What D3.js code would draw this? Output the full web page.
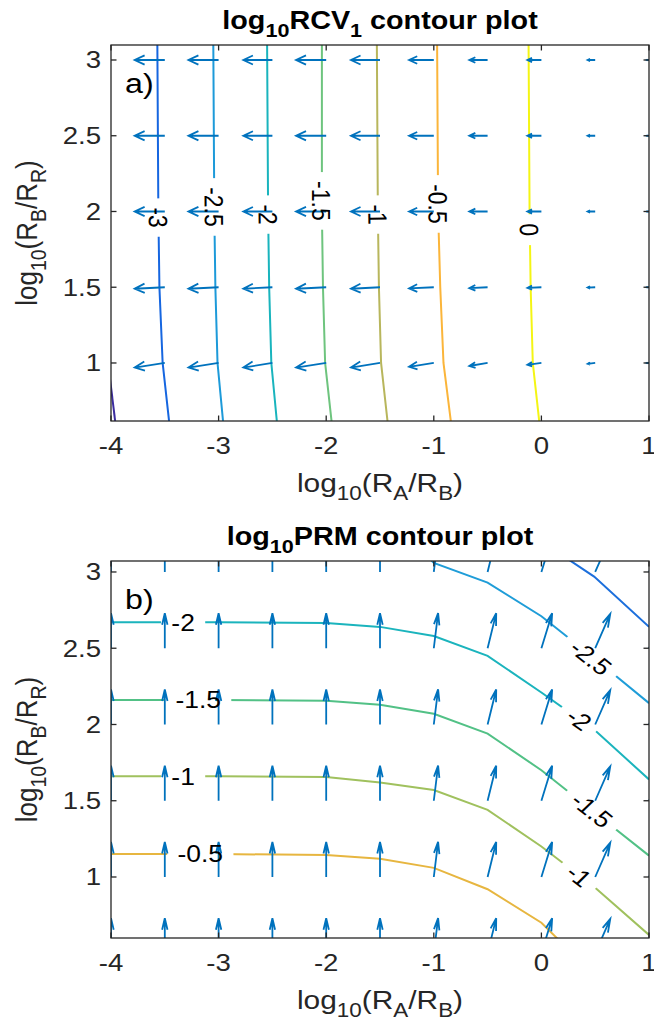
<!DOCTYPE html>
<html>
<head>
<meta charset="utf-8">
<title>log10 contour plots</title>
<script src="https://cdn.jsdelivr.net/npm/d3@7/dist/d3.min.js"></script>
<style>
body { margin: 0; background: #fff; }
text { font-family: "Liberation Sans", Arial, Helvetica, sans-serif; }
</style>
</head>
<body>
<script>
// ---------- data ----------
var xTicks = [-4, -3, -2, -1, 0, 1];
var xTickLabels = ["-4", "-3", "-2", "-1", "0", "1"];
var yTicks = [1, 1.5, 2, 2.5, 3];
var yTickLabels = ["1", "1.5", "2", "2.5", "3"];
var gridX = [-4, -3.5, -3, -2.5, -2, -1.5, -1, -0.5, 0, 0.5, 1];

// panel a : log10 RCV1
var levelsA = [-3.5, -3, -2.5, -2, -1.5, -1, -0.5, 0];
var colorsA = ["#3b2c9e", "#1666e0", "#1d9ad9", "#19b4bd", "#6ec47e", "#b8b65c", "#fbb53a", "#f4f514"];
var contoursA = [
  [[-4.01, 0.9], [-3.95, 0.55]],
  [[-3.57, 3.2], [-3.56, 2.0], [-3.55, 1.5], [-3.52, 1.0], [-3.45, 0.55]],
  [[-3.05, 3.2], [-3.04, 2.0], [-3.03, 1.5], [-3.01, 1.0], [-2.95, 0.55]],
  [[-2.55, 3.2], [-2.54, 2.0], [-2.53, 1.5], [-2.51, 1.0], [-2.45, 0.55]],
  [[-2.04, 3.2], [-2.04, 2.0], [-2.03, 1.5], [-2.01, 1.0], [-1.94, 0.55]],
  [[-1.53, 3.2], [-1.52, 2.0], [-1.51, 1.5], [-1.49, 1.0], [-1.42, 0.55]],
  [[-0.97, 3.2], [-0.96, 2.0], [-0.94, 1.5], [-0.91, 1.0], [-0.83, 0.55]],
  [[-0.12, 3.2], [-0.11, 2.0], [-0.1, 1.5], [-0.08, 1.0], [-0.01, 0.55]]
];
// [level, x, y]
var labelsA = [[-3, -3.56, 1.96], [-2.5, -3.04, 2.03], [-2, -2.54, 1.98], [-1.5, -2.04, 2.07],
               [-1, -1.52, 1.98], [-0.5, -0.96, 2.05], [0, -0.11, 1.88]];
var rowsA = [1, 1.5, 2, 2.5, 3];
var uRowA = [-0.28, -0.28, -0.28, -0.27, -0.28, -0.27, -0.23, -0.17, -0.13, -0.07, -0.02];
var uA = [uRowA, uRowA, uRowA, uRowA, uRowA];
var vA = [
  [-0.03, -0.03, -0.03, -0.03, -0.03, -0.03, -0.025, -0.02, -0.012, -0.006, 0],
  [-0.01, -0.01, -0.01, -0.01, -0.01, -0.01, -0.008, -0.006, -0.004, -0.002, 0],
  [0, 0, 0, 0, 0, 0, 0, 0, 0, 0, 0],
  [0, 0, 0, 0, 0, 0, 0, 0, 0, 0, 0],
  [0, 0, 0, 0, 0, 0, 0, 0, 0, 0, 0]
];

// panel b : log10 PRM
var levelsB = [-3, -2.5, -2, -1.5, -1, -0.5];
var colorsB = ["#1c6fdc", "#1f9dd8", "#1bb4bd", "#52c186", "#a0c15e", "#e7b640"];
var contoursB = [
  [[0.0, 3.2], [0.49, 2.97], [1.0, 2.64]],
  [[-1.2, 3.2], [-1.0, 3.06], [-0.5, 2.93], [0, 2.71], [0.5, 2.43], [1.0, 2.14]],
  [[-4, 2.67], [-3, 2.67], [-2, 2.665], [-1.5, 2.64], [-1.0, 2.58], [-0.5, 2.45], [0, 2.21], [0.5, 1.96], [1.0, 1.64]],
  [[-4, 2.16], [-3, 2.16], [-2, 2.155], [-1.5, 2.13], [-1.0, 2.07], [-0.5, 1.94], [0, 1.7], [0.5, 1.42], [1.0, 1.14]],
  [[-4, 1.66], [-3, 1.66], [-2, 1.655], [-1.5, 1.62], [-1.0, 1.57], [-0.5, 1.44], [0, 1.2], [0.5, 0.93], [1.0, 0.62]],
  [[-4, 1.15], [-3, 1.15], [-2, 1.145], [-1.5, 1.12], [-1.0, 1.06], [-0.5, 0.92], [0, 0.7], [0.2, 0.56]]
];
var labelsB = [[-2, -3.33, 2.67], [-1.5, -3.19, 2.16], [-1, -3.33, 1.66], [-0.5, -3.17, 1.15],
               [-2.5, 0.46, 2.44], [-2, 0.35, 2.035], [-1.5, 0.47, 1.44], [-1, 0.35, 1.01]];
var rowsB = [0.5, 1, 1.5, 2, 2.5, 3];
var uRowB = [0, 0, 0, 0, 0, 0, 0.04, 0.08, 0.1, 0.14, 0.16];
var vRowB = [0.23, 0.23, 0.23, 0.23, 0.23, 0.23, 0.23, 0.23, 0.23, 0.225, 0.22];
var uB = [uRowB, uRowB, uRowB, uRowB, uRowB, uRowB];
var vB = [vRowB, vRowB, vRowB, vRowB, vRowB, vRowB];

// ---------- layout ----------
var W = 654, H = 1023;
var LEFT = 111, RIGHT = 649;
var SX = 1.15;           // the figure is a little stretched horizontally
var AX = "#262626", ARROW = "#0072bd";

var svg = d3.select("body").append("svg").attr("width", W).attr("height", H);
var defs = svg.append("defs");

function addText(g, x, y, parts, o) {
  var tr = "translate(" + x + "," + y + ") scale(" + SX + ",1)" + (o.rot ? " rotate(" + o.rot + ")" : "");
  var t = g.append("text").attr("transform", tr)
    .attr("text-anchor", o.anchor || "middle")
    .attr("font-size", o.size)
    .attr("font-weight", o.weight || "normal")
    .attr("fill", o.color || "#000");
  if (o.baseline) t.attr("dominant-baseline", o.baseline);
  if (typeof parts === "string") parts = [[parts, 0]];
  var shift = 0;
  parts.forEach(function (p) {
    var want = p[1] ? o.size * 0.3 : 0;
    t.append("tspan").attr("dy", want - shift)
      .attr("font-size", p[1] ? o.size * 0.75 : o.size).text(p[0]);
    shift = want;
  });
  return t;
}

var panels = [
  { id: "a", top: 45, bottom: 421, yDomain: [0.617, 3.099], titleY: 29, tag: "a)",
    title: [["log", 0], ["10", 1], ["RCV", 0], ["1", 1], [" contour plot", 0]],
    levels: levelsA, colors: colorsA, contours: contoursA, labels: labelsA, rows: rowsA, U: uA, V: vA },
  { id: "b", top: 561, bottom: 938, yDomain: [0.6, 3.072], titleY: 545, tag: "b)",
    title: [["log", 0], ["10", 1], ["PRM contour plot", 0]],
    levels: levelsB, colors: colorsB, contours: contoursB, labels: labelsB, rows: rowsB, U: uB, V: vB }
];

panels.forEach(function (p) {
  var x = d3.scaleLinear().domain([-4, 1]).range([LEFT, RIGHT]);
  var y = d3.scaleLinear().domain(p.yDomain).range([p.bottom, p.top]);
  var g = svg.append("g").attr("id", "panel-" + p.id);

  defs.append("clipPath").attr("id", "clip-" + p.id).append("rect")
    .attr("x", LEFT).attr("y", p.top).attr("width", RIGHT - LEFT).attr("height", p.bottom - p.top);
  var mask = defs.append("mask").attr("id", "mask-" + p.id).attr("maskUnits", "userSpaceOnUse")
    .attr("x", 0).attr("y", 0).attr("width", W).attr("height", H);
  mask.append("rect").attr("width", W).attr("height", H).attr("fill", "white");

  var plot = g.append("g").attr("clip-path", "url(#clip-" + p.id + ")");
  var lineGen = d3.line().x(function (d) { return x(d[0]); }).y(function (d) { return y(d[1]); });
  var lines = plot.append("g").attr("mask", "url(#mask-" + p.id + ")");
  p.contours.forEach(function (c, i) {
    lines.append("path").datum(c).attr("d", lineGen)
      .attr("fill", "none").attr("stroke", p.colors[i]).attr("stroke-width", 2);
  });

  // quiver arrows (head drawn like matlab: alpha = beta = 0.33, in data units)
  var arrows = plot.append("g");
  p.rows.forEach(function (gy, r) {
    gridX.forEach(function (gx, c) {
      var u = p.U[r][c], v = p.V[r][c];
      var hx = gx + u, hy = gy + v, a = 0.33, b = 0.33;
      var l1 = [hx - a * (u + b * v), hy - a * (v - b * u)];
      var l2 = [hx - a * (u - b * v), hy - a * (v + b * u)];
      var path = d3.path();
      path.moveTo(x(gx), y(gy)); path.lineTo(x(hx), y(hy));
      path.moveTo(x(l1[0]), y(l1[1])); path.lineTo(x(hx), y(hy)); path.lineTo(x(l2[0]), y(l2[1]));
      arrows.append("path").attr("d", path.toString()).attr("fill", "none")
        .attr("stroke", ARROW).attr("stroke-width", 1.8);
    });
  });

  // contour labels with gaps cut in the lines
  var lg = g.append("g");
  p.labels.forEach(function (lb) {
    var li = p.levels.indexOf(lb[0]);
    var pts = p.contours[li].map(function (d) { return [x(d[0]), y(d[1])]; });
    var px = x(lb[1]), py = y(lb[2]);
    var best = 0, bd = Infinity;
    for (var k = 0; k < pts.length - 1; k++) {
      var ax = pts[k][0], ay = pts[k][1], bx = pts[k + 1][0], by = pts[k + 1][1];
      var dx = bx - ax, dy = by - ay, L2 = dx * dx + dy * dy;
      var t = Math.max(0, Math.min(1, ((px - ax) * dx + (py - ay) * dy) / L2));
      var ex = ax + t * dx - px, ey = ay + t * dy - py, dd = ex * ex + ey * ey;
      if (dd < bd) { bd = dd; best = k; }
    }
    var sdx = pts[best + 1][0] - pts[best][0], sdy = pts[best + 1][1] - pts[best][1];
    var ang = Math.atan2(sdy, sdx / SX) * 180 / Math.PI;
    var txt = addText(lg, px, py, String(lb[0]), { size: 23, rot: ang, baseline: "central" });
    var L = txt.node().getComputedTextLength();
    mask.append("rect").attr("transform", txt.attr("transform"))
      .attr("x", -L / 2 - 9).attr("y", -13).attr("width", L + 18).attr("height", 26).attr("fill", "black");
  });

  // axes box and inward ticks
  var ax = g.append("g");
  ax.append("rect").attr("x", LEFT).attr("y", p.top).attr("width", RIGHT - LEFT).attr("height", p.bottom - p.top)
    .attr("fill", "none").attr("stroke", AX).attr("stroke-width", 1.3);
  var TL = 5.5;
  xTicks.forEach(function (v, i) {
    ax.append("line").attr("x1", x(v)).attr("x2", x(v)).attr("y1", p.bottom).attr("y2", p.bottom - TL).attr("stroke", AX).attr("stroke-width", 1.3);
    ax.append("line").attr("x1", x(v)).attr("x2", x(v)).attr("y1", p.top).attr("y2", p.top + TL).attr("stroke", AX).attr("stroke-width", 1.3);
    addText(ax, x(v), p.bottom + 33, xTickLabels[i], { size: 24, color: AX });
  });
  yTicks.forEach(function (v, i) {
    ax.append("line").attr("x1", LEFT).attr("x2", LEFT + TL).attr("y1", y(v)).attr("y2", y(v)).attr("stroke", AX).attr("stroke-width", 1.3);
    ax.append("line").attr("x1", RIGHT).attr("x2", RIGHT - TL).attr("y1", y(v)).attr("y2", y(v)).attr("stroke", AX).attr("stroke-width", 1.3);
    addText(ax, LEFT - 10, y(v), yTickLabels[i], { size: 24, color: AX, anchor: "end", baseline: "central" });
  });

  // axis labels, title and panel tag
  addText(g, (LEFT + RIGHT) / 2, p.bottom + 71,
    [["log", 0], ["10", 1], ["(R", 0], ["A", 1], ["/R", 0], ["B", 1], [")", 0]], { size: 26, color: AX });
  addText(g, 37, (p.top + p.bottom) / 2,
    [["log", 0], ["10", 1], ["(R", 0], ["B", 1], ["/R", 0], ["R", 1], [")", 0]], { size: 26, color: AX, rot: -90 });
  addText(g, (LEFT + RIGHT) / 2, p.titleY, p.title, { size: 25, weight: "bold" });
  addText(g, LEFT + 14, p.top + 48, p.tag, { size: 28, anchor: "start" });
});
</script>
</body>
</html>
